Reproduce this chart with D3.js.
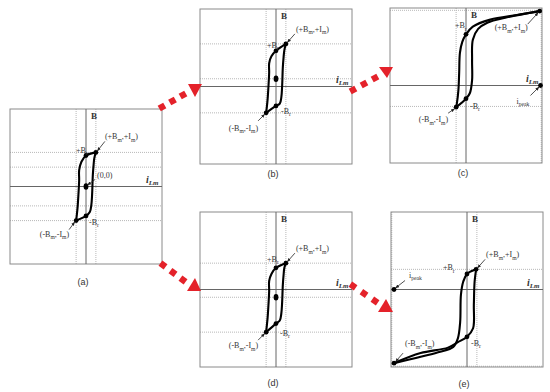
<!DOCTYPE html>
<html>
<head>
<meta charset="utf-8">
<script src="https://cdn.jsdelivr.net/npm/d3@7"></script>
<style>
  body { margin: 0; background: #fff; }
  svg { display: block; }
</style>
</head>
<body>
<svg width="550" height="392"></svg>
<script>
// B-i loops, [i_Lm, B] in per-unit of half a panel
const loopADown = [[0.13,0.44],[0,0.40],[-0.06,0.32],[-0.09,0.21],[-0.09,0.08],[-0.1,-0.11],[-0.11,-0.26],[-0.12,-0.36],[-0.13,-0.44]];
const loopAUp   = [[-0.13,-0.44],[0,-0.38],[0.05,-0.33],[0.07,-0.24],[0.08,-0.11],[0.09,0.15],[0.1,0.28],[0.11,0.37],[0.13,0.44]];
const loopBDown = [[0.13,0.55],[0,0.46],[-0.06,0.39],[-0.09,0.30],[-0.09,0.18],[-0.1,-0.01],[-0.11,-0.16],[-0.12,-0.26],[-0.13,-0.34]];
const loopBUp   = [[-0.13,-0.34],[0,-0.25],[0.05,-0.22],[0.07,-0.14],[0.08,-0.01],[0.09,0.25],[0.1,0.38],[0.11,0.47],[0.13,0.55]];
const loopCDown = [[0.97,0.96],[0.67,0.91],[0.32,0.85],[0.09,0.76],[0,0.66],[-0.05,0.56],[-0.08,0.42],[-0.09,0.16],[-0.1,-0.06],[-0.12,-0.23],[-0.13,-0.28]];
const loopCUp   = [[-0.13,-0.28],[0,-0.17],[0.05,-0.1],[0.08,0.07],[0.08,0.33],[0.09,0.59],[0.16,0.73],[0.28,0.81],[0.54,0.88],[0.97,0.96]];
const loopDDown = [[0.13,0.34],[0,0.28],[-0.06,0.20],[-0.09,0.11],[-0.09,-0.02],[-0.1,-0.21],[-0.11,-0.36],[-0.12,-0.46],[-0.13,-0.55]];
const loopDUp   = [[-0.13,-0.55],[0,-0.44],[0.05,-0.40],[0.07,-0.31],[0.08,-0.18],[0.09,0.06],[0.1,0.19],[0.11,0.28],[0.13,0.34]];
const loopEUp   = [[-0.96,-0.95],[-0.61,-0.82],[-0.25,-0.75],[-0.12,-0.68],[0,-0.61],[0.08,-0.5],[0.09,-0.2],[0.1,0.1],[0.12,0.26]];
const loopEDown = [[0.12,0.26],[0,0.2],[-0.05,0.1],[-0.08,-0.07],[-0.09,-0.42],[-0.12,-0.63],[-0.18,-0.74],[-0.38,-0.81],[-0.96,-0.95]];

// marked points: +Bm, +Br, centre / i_peak, -Br, -Bm
const pointsA = [[0.13,0.44],[0,0.40],[0,0],[0,-0.38],[-0.13,-0.44]];
const pointsB = [[0.13,0.55],[0,0.46],[0,0.10],[0,-0.25],[-0.13,-0.34]];
const pointsC = [[0.97,0.96],[0,0.66],[0.98,0],[0,-0.17],[-0.13,-0.28]];
const pointsD = [[0.13,0.34],[0,0.28],[0,-0.10],[0,-0.44],[-0.13,-0.55]];
const pointsE = [[0.12,0.26],[0,0.2],[-0.96,0],[0,-0.61],[-0.96,-0.95]];

// dotted guide levels
const guideXA = [-0.13,0.13], guideYA = [0.44,0.25,-0.25,-0.44];
const guideXB = [-0.13,0.13], guideYB = [0.55,0.10,-0.34];
const guideXC = [-0.13,0.99], guideYC = [0.97,-0.27];
const guideXD = [-0.13,0.13], guideYD = [0.34,-0.10,-0.55];
const guideXE = [-0.99,0.13], guideYE = [0.26,-0.99];

// labels: text (_x = subscript), point index, offsets, anchor, arrow start offset
const notesA = [
  {t:'(+B_m,+I_m)', p:0, dx:9, dy:-13, a:'start', arr:[9,-11]},
  {t:'+B_r', p:1, dx:-10, dy:-3, a:'start'},
  {t:'(0,0)', p:2, dx:11, dy:-9, a:'start', arr:[9,-7]},
  {t:'-B_r', p:3, dx:3, dy:9, a:'start'},
  {t:'(-B_m,-I_m)', p:4, dx:-7, dy:16, a:'end', arr:[-7,9]}
];
const notesB = [
  {t:'(+B_m,+I_m)', p:0, dx:10, dy:-12, a:'start', arr:[9,-10]},
  {t:'+B_r', p:1, dx:-9, dy:-3, a:'start'},
  {t:'-B_r', p:3, dx:5, dy:8, a:'start'},
  {t:'(-B_m,-I_m)', p:4, dx:-8, dy:18, a:'end', arr:[-8,8]}
];
const notesC = [
  {t:'(+B_m,+I_m)', p:0, dx:-12, dy:19, a:'end', arr:[-12,13]},
  {t:'+B_r', p:1, dx:-11, dy:-6, a:'start'},
  {t:'i_peak', p:2, dx:-24, dy:18, a:'start', arr:[-10,10]},
  {t:'-B_r', p:3, dx:4, dy:10, a:'start'},
  {t:'(-B_m,-I_m)', p:4, dx:-8, dy:15, a:'end', arr:[-8,6]}
];
const notesD = [
  {t:'(+B_m,+I_m)', p:0, dx:10, dy:-12, a:'start', arr:[9,-10]},
  {t:'+B_r', p:1, dx:-9, dy:-6, a:'start'},
  {t:'-B_r', p:3, dx:4, dy:12, a:'start'},
  {t:'(-B_m,-I_m)', p:4, dx:-8, dy:16, a:'end', arr:[-8,8]}
];
const notesE = [
  {t:'(+B_m,+I_m)', p:0, dx:10, dy:-12, a:'start', arr:[9,-10]},
  {t:'+B_r', p:1, dx:-24, dy:-4, a:'start'},
  {t:'i_peak', p:2, dx:15, dy:-12, a:'start', arr:[11,-9]},
  {t:'-B_r', p:3, dx:4, dy:9, a:'start'},
  {t:'(-B_m,-I_m)', p:4, dx:11, dy:-17, a:'start', arr:[9,-10]}
];

const panelNames = ['(a)','(b)','(c)','(d)','(e)'];

let svg = d3.select('svg'),
    red = '#e4222a',
    serif = '"Liberation Serif", "DejaVu Serif", serif';

svg.append('defs').append('marker')
    .attr('id', 'tip')
    .attr('viewBox', '0 0 10 10')
    .attr('refX', 9).attr('refY', 5)
    .attr('markerWidth', 5).attr('markerHeight', 5)
    .attr('orient', 'auto')
  .append('path').attr('d', 'M0,1 L10,5 L0,9 Z').attr('fill', '#222');

// panel boxes and where the caption sits
let panels = [
  {x0: 10,  y0: 109, down: loopADown, up: loopAUp, pts: pointsA, gx: guideXA, gy: guideYA, notes: notesA, cap: 21, mid: true},
  {x0: 200, y0: 9,   down: loopBDown, up: loopBUp, pts: pointsB, gx: guideXB, gy: guideYB, notes: notesB, cap: 13, mid: true},
  {x0: 390, y0: 8,   down: loopCDown, up: loopCUp, pts: pointsC, gx: guideXC, gy: guideYC, notes: notesC, cap: 13, mid: false},
  {x0: 200, y0: 212, down: loopDDown, up: loopDUp, pts: pointsD, gx: guideXD, gy: guideYD, notes: notesD, cap: 19, mid: true},
  {x0: 391, y0: 212, down: loopEDown, up: loopEUp, pts: pointsE, gx: guideXE, gy: guideYE, notes: notesE, cap: 20, mid: false}
];

function addText(sel, str, size) {
  let parts = str.split(/_([A-Za-z]+)/);
  parts.forEach(function(s, k) {
    if (s === '') return;
    let sub = k % 2 === 1;
    sel.append('tspan')
      .style('font-size', (sub ? size * 0.7 : size) + 'px')
      .attr('dy', sub ? 2.5 : (k > 0 ? -2.5 : 0))
      .text(s);
  });
}

panels.forEach(function(p, n) {
  let w = 152, h = 155;
  let x = d3.scaleLinear().domain([-1, 1]).range([p.x0, p.x0 + w]);
  let y = d3.scaleLinear().domain([-1, 1]).range([p.y0 + h, p.y0]);
  let g = svg.append('g');

  // dotted guides
  g.selectAll('.gx').data(p.gx).enter().append('line')
    .attr('x1', d => x(d)).attr('x2', d => x(d))
    .attr('y1', y(1)).attr('y2', y(-1))
    .attr('stroke', '#b8b8b8').attr('stroke-dasharray', '1,1');
  g.selectAll('.gy').data(p.gy).enter().append('line')
    .attr('y1', d => y(d)).attr('y2', d => y(d))
    .attr('x1', x(-1)).attr('x2', x(1))
    .attr('stroke', '#b8b8b8').attr('stroke-dasharray', '1,1');

  // frame and axes
  g.append('rect').attr('x', x(-1)).attr('y', y(1)).attr('width', w).attr('height', h)
    .attr('fill', 'none').attr('stroke', '#8a8a8a').attr('stroke-width', 1);
  g.append('line').attr('x1', x(-1)).attr('x2', x(1)).attr('y1', y(0)).attr('y2', y(0))
    .attr('stroke', '#666');
  g.append('line').attr('x1', x(0)).attr('x2', x(0)).attr('y1', y(1)).attr('y2', y(-1))
    .attr('stroke', '#666');

  // loop
  let line = d3.line().x(d => x(d[0])).y(d => y(d[1])).curve(d3.curveCatmullRom.alpha(0.5));
  [p.down, p.up].forEach(function(br) {
    g.append('path').attr('d', line(br))
      .attr('fill', 'none').attr('stroke', '#000').attr('stroke-width', 2.1)
      .attr('stroke-linejoin', 'round');
  });

  // dots
  g.selectAll('.dot').data(p.pts).enter().append('ellipse')
    .attr('cx', d => x(d[0])).attr('cy', d => y(d[1]))
    .attr('rx', 2.4)
    .attr('ry', (d, k) => (k === 2 && p.mid) ? 3.2 : 2.4)
    .attr('fill', '#000');

  // annotations
  p.notes.forEach(function(a) {
    let px = x(p.pts[a.p][0]), py = y(p.pts[a.p][1]);
    let t = g.append('text')
      .attr('x', px + a.dx).attr('y', py + a.dy)
      .attr('text-anchor', a.a)
      .style('font-family', serif).attr('fill', '#333');
    addText(t, a.t, 8);
    if (a.arr) {
      let sx = Math.sign(a.arr[0]), sy = Math.sign(a.arr[1]);
      g.append('line')
        .attr('x1', px + a.arr[0]).attr('y1', py + a.arr[1])
        .attr('x2', px + sx * 1.5).attr('y2', py + sy * 1.5)
        .attr('stroke', '#222').attr('stroke-width', 0.8)
        .attr('marker-end', 'url(#tip)');
    }
  });

  // axis names
  g.append('text').attr('x', x(0) + 5).attr('y', y(1) + 10)
    .style('font-family', serif).attr('font-weight', 'bold').style('font-size', '9px')
    .attr('fill', '#333').text('B');
  let il = g.append('text').attr('x', x(1) - 16).attr('y', y(0) - 4)
    .style('font-family', serif).attr('font-weight', 'bold').attr('font-style', 'italic')
    .attr('fill', '#333');
  addText(il, 'i_Lm', 10);

  g.append('text').attr('x', x(0) - 3).attr('y', y(-1) + p.cap)
    .attr('text-anchor', 'middle')
    .style('font-family', '"Liberation Sans", Arial, sans-serif').style('font-size', '9px')
    .attr('fill', '#333').text(panelNames[n]);
});

// red transition arrows: square dashes then a triangle head
let jumps = [
  {from: [162, 107], to: [183, 95], head: [[188, 84], [202, 84], [195, 97]]},
  {from: [353, 90],  to: [375, 78], head: [[379, 67], [393, 67], [387, 78]]},
  {from: [163, 265], to: [183, 280], head: [[187, 291], [201, 291], [195, 278]]},
  {from: [353, 286], to: [375, 301], head: [[378, 312], [393, 312], [386, 299]]}
];
jumps.forEach(function(j) {
  let ang = Math.atan2(j.to[1] - j.from[1], j.to[0] - j.from[0]) * 180 / Math.PI;
  let ip = d3.interpolate(j.from, j.to);
  [0, 0.5, 1].forEach(function(t) {
    let c = ip(t);
    svg.append('rect').attr('x', -3.2).attr('y', -3.2).attr('width', 6.4).attr('height', 6.4)
      .attr('fill', red)
      .attr('transform', 'translate(' + c[0] + ',' + c[1] + ') rotate(' + ang + ')');
  });
  svg.append('path').attr('d', 'M' + j.head.join('L') + 'Z').attr('fill', red);
});
</script>
</body>
</html>
